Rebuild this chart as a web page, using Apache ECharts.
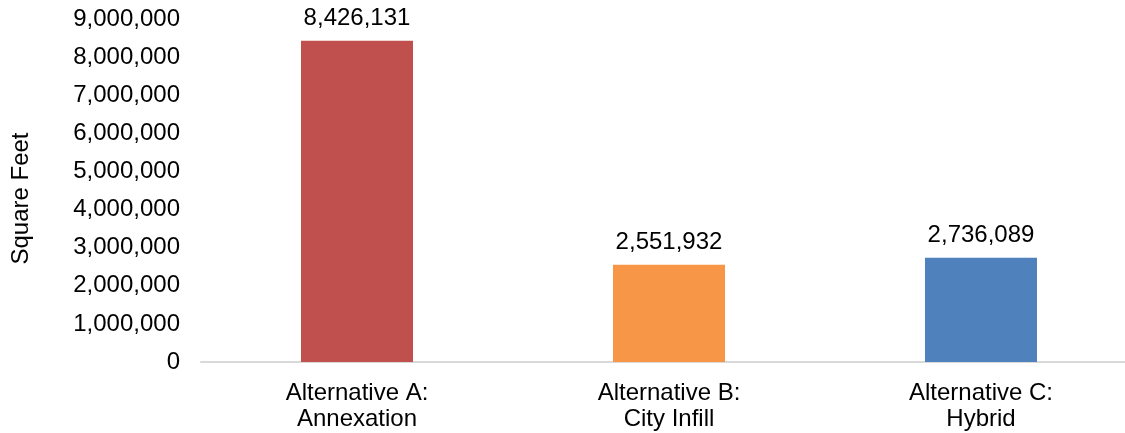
<!DOCTYPE html>
<html>
<head>
<meta charset="utf-8">
<script src="https://cdn.jsdelivr.net/npm/echarts@6/dist/echarts.min.js"></script>
<style>
html,body{margin:0;padding:0;background:#fff;overflow:hidden;width:1125px;height:433px;}
#chart{width:1137px;height:433px;}
</style>
</head>
<body>
<div id="chart"></div>
<script>
const categories = ['Alternative A:\nAnnexation', 'Alternative B:\nCity Infill', 'Alternative C:\nHybrid'];
const values = [8426131, 2551932, 2736089];
const barColors = ['#C0504D', '#F79646', '#4F81BD'];
const yAxisName = 'Square Feet';

const FONT = '"Liberation Sans", Arial, sans-serif';
const fmt = v => Math.round(v).toLocaleString('en-US');

const chart = echarts.init(document.getElementById('chart'), null, {renderer: 'canvas'});
chart.setOption({
  animation: false,
  backgroundColor: '#ffffff',
  grid: {left: 201, top: 19, bottom: 71, right: 0, containLabel: false},
  xAxis: {
    type: 'category',
    data: categories,
    axisLine: {show: true, lineStyle: {color: '#d9d9d9', width: 2}},
    axisTick: {show: false},
    axisLabel: {color: '#000', fontFamily: FONT, fontSize: 24, lineHeight: 26, margin: 18}
  },
  yAxis: {
    type: 'value',
    min: 0, max: 9000000, interval: 1000000,
    name: yAxisName,
    nameLocation: 'middle',
    nameGap: 168,
    nameTextStyle: {color: '#000', fontFamily: FONT, fontSize: 24, padding: [0, 16, 0, 0]},
    axisLine: {show: false},
    axisTick: {show: false},
    splitLine: {show: false},
    axisLabel: {color: '#000', fontFamily: FONT, fontSize: 24, margin: 21, formatter: fmt}
  },
  series: [{
    type: 'bar',
    data: values.map((v, i) => ({value: v, itemStyle: {color: barColors[i]}})),
    barWidth: 112,
    label: {
      show: true, position: 'top', distance: 10,
      color: '#000', fontFamily: FONT, fontSize: 24,
      formatter: p => fmt(p.value)
    }
  }]
});
</script>
</body>
</html>
